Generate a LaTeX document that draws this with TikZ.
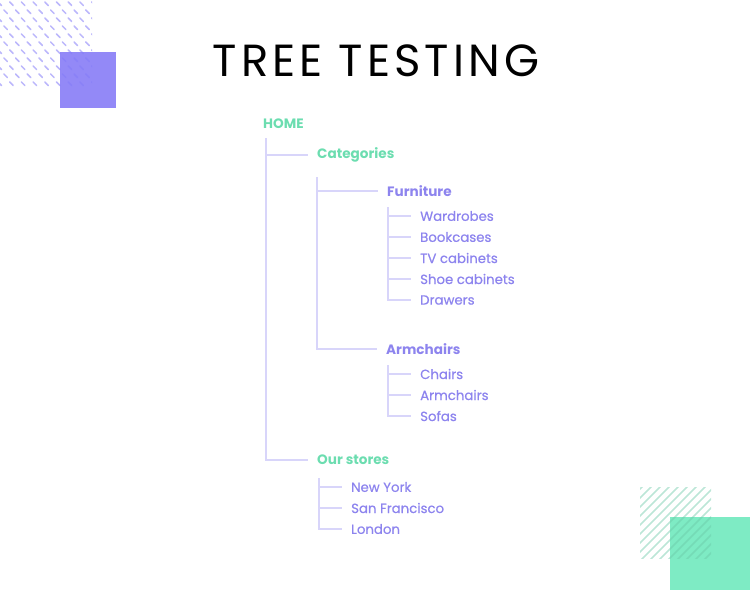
\documentclass[tikz,border=0pt]{standalone}
\usepackage{fontspec}
\setmainfont{Poppins}
\newfontfamily\leaffont{Poppins}[FakeBold=0.6]
\newfontfamily\titlefont{Poppins}[LetterSpace=9]
\usetikzlibrary{positioning}
\definecolor{ttgreen}{RGB}{126,235,196}
\definecolor{ttgreentext}{RGB}{108,221,176}
\definecolor{ttpurple}{RGB}{147,137,247}
\definecolor{ttpurpletext}{RGB}{141,132,238}
\definecolor{ttline}{RGB}{216,213,250}

\tikzset{
  toplevel/.style={anchor=west, inner sep=0pt, text=ttgreentext, font=\fontsize{13.6}{16}\selectfont\bfseries},
  midlevel/.style={anchor=west, inner sep=0pt, text=ttpurpletext, font=\fontsize{13.6}{16}\selectfont\bfseries},
  leaf/.style={anchor=west, inner sep=0pt, text=ttpurpletext, font=\fontsize{13.3}{16}\leaffont},
  branch/.style={draw=ttline, line width=1.5pt, shorten >=9pt},
}

\begin{document}
\begin{tikzpicture}[x=1pt, y=-1pt]
  \useasboundingbox (0,0) rectangle (750,590);
  % Corner decoration, top left
  \fill[ttpurple] (60,52) rectangle (116,108);
  \begin{scope}
    \clip (0,0) rectangle (92,88);
    \foreach \r in {0,...,11}
      \foreach \c in {0,...,8}
        \draw[ttpurple!90!blue, opacity=0.55, line width=1.5pt, line cap=round]
          ({\c*11.7+mod(\r,2)*5.85-2}, {\r*8+2}) -- ++(3.5,3.5);
  \end{scope}
  % Corner decoration, bottom right
  \fill[ttgreen] (670,517) rectangle (750,590);
  \begin{scope}
    \clip (640,487) rectangle (711,558);
    \foreach \i in {0,...,17}
      \draw[ttgreen!85!black, opacity=0.45, line width=1.6pt]
        ({569+\i*9}, 560) -- ++(75,-75);
  \end{scope}
  % Title
  \node (title) at (376,61) {\fontsize{45}{50}\titlefont TREE TESTING};
  % Tree labels
  \node[toplevel] (home) at (263,124) {HOME};
  \node[toplevel] (cat) at (317,155) {Categories};
  \node[midlevel] (furn) at (387,191) {Furniture};
  \node[leaf] (wardrobes) at (420,216) {Wardrobes};
  \node[leaf] (bookcases) at (420,237) {Bookcases};
  \node[leaf] (tv) at (420,258) {TV cabinets};
  \node[leaf] (shoe) at (420,279) {Shoe cabinets};
  \node[leaf] (drawers) at (420,300) {Drawers};
  \node[midlevel] (arm) at (386,349) {Armchairs};
  \node[leaf] (chairs) at (420,374) {Chairs};
  \node[leaf] (armchairs) at (420,395) {Armchairs};
  \node[leaf] (sofas) at (420,416) {Sofas};
  \node[toplevel] (stores) at (317,460) {Our stores};
  \node[leaf] (newyork) at (351,487) {New York};
  \node[leaf] (sanfran) at (351,508) {San Francisco};
  \node[leaf] (london) at (351,529) {London};
  % Branch roots
  \coordinate (homeroot) at ([xshift=3pt,yshift=-14pt]home.west);
  \coordinate (catroot) at ([xshift=0pt,yshift=-22pt]cat.west);
  \coordinate (furnroot) at ([xshift=1pt,yshift=-16pt]furn.west);
  \coordinate (armroot) at ([xshift=2pt,yshift=-16pt]arm.west);
  \coordinate (storesroot) at ([xshift=2pt,yshift=-18pt]stores.west);
  % Branches
  \draw[branch] (homeroot) |- (cat);
  \draw[branch] (homeroot) |- (stores);
  \draw[branch] (catroot) |- (furn);
  \draw[branch] (catroot) |- (arm);
  \foreach \n in {wardrobes,bookcases,tv,shoe,drawers}
    \draw[branch] (furnroot) |- (\n);
  \foreach \n in {chairs,armchairs,sofas}
    \draw[branch] (armroot) |- (\n);
  \foreach \n in {newyork,sanfran,london}
    \draw[branch] (storesroot) |- (\n);
\end{tikzpicture}
\end{document}
